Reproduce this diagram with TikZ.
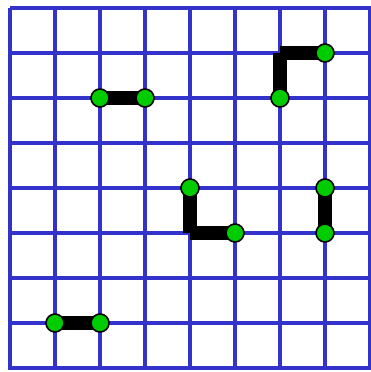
\documentclass[tikz,border=0pt]{standalone}
\usetikzlibrary{backgrounds}
\definecolor{gridblue}{RGB}{51,51,204}
\definecolor{dotgreen}{RGB}{0,204,0}
\tikzset{
  gridline/.style={draw=gridblue, line width=4.5pt},
  bond/.style={draw=black, line width=14pt, line cap=butt},
  dot/.style={circle, fill=dotgreen, draw=black, line width=1.6pt, minimum size=18pt, inner sep=0pt},
}
\begin{document}
\begin{tikzpicture}[x=1pt, y=-1pt]
\useasboundingbox (0,0) rectangle (370,372);
% nodes
\node[dot] (a1) at (100,98) {};
\node[dot] (a2) at (145,98) {};
\node[dot] (b1) at (280,98) {};
\coordinate (bc) at (280,53);
\node[dot] (b2) at (325,53) {};
\node[dot] (c1) at (190,188) {};
\coordinate (cc) at (190,233);
\node[dot] (c2) at (235,233) {};
\node[dot] (d1) at (325,188) {};
\node[dot] (d2) at (325,233) {};
\node[dot] (e1) at (55,323) {};
\node[dot] (e2) at (100,323) {};
\begin{pgfonlayer}{background}
  \foreach \i in {0,...,8} {
    \draw[gridline] ({10+45*\i},8) -- ({10+45*\i},370);
    \draw[gridline] (10,{8+45*\i}) -- (372,{8+45*\i});
  }
  \draw[bond] (a1.center) -- (a2.center);
  \draw[bond] (b1.center) -- (bc);
  \draw[bond] (bc) -- (b2.center);
  \draw[bond] (c1.center) -- (cc);
  \draw[bond] (cc) -- (c2.center);
  \draw[bond] (d1.center) -- (d2.center);
  \draw[bond] (e1.center) -- (e2.center);
\end{pgfonlayer}
\end{tikzpicture}
\end{document}
